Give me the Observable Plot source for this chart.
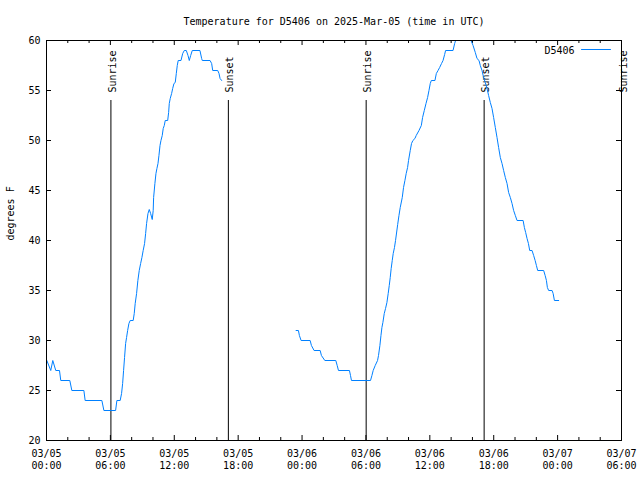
<!DOCTYPE html>
<html><head><meta charset="utf-8">
<script src="https://cdn.jsdelivr.net/npm/d3@7"></script>
<script src="https://cdn.jsdelivr.net/npm/@observablehq/plot@0.6"></script>
<style>body{margin:0;background:#fff} svg{display:block}</style>
</head><body><div id="chart"></div>
<script>
const title = "Temperature for D5406 on 2025-Mar-05 (time in UTC)";
const seriesName = "D5406";
const yLabel = "degrees F";
const startUTC = Date.UTC(2025, 2, 5, 0, 0);
const endUTC = Date.UTC(2025, 2, 7, 6, 0);

// hours since 2025-03-05 00:00 UTC
const seg1Hours = [0.03,0.40,0.59,0.87,1.22,1.34,2.19,2.38,3.51,3.63,5.20,5.39,6.49,6.61,6.92,7.05,7.15,7.24,7.33,7.43,7.52,7.62,7.74,7.86,8.14,8.24,8.33,8.46,8.58,8.71,8.84,8.96,9.08,9.21,9.31,9.40,9.53,9.65,9.78,9.93,10.02,10.06,10.18,10.28,10.37,10.47,10.56,10.66,10.75,10.87,10.96,11.06,11.15,11.38,11.47,11.53,11.62,11.75,11.85,11.97,12.09,12.19,12.28,12.37,12.63,12.79,12.94,13.13,13.29,13.41,13.54,13.69,14.41,14.57,14.63,15.36,15.51,15.61,16.08,16.20,16.30,16.45];
const seg1Temps = [28,27,28,27,27,26,26,25,25,24,24,23,23,24,24,24.7,25.7,27,28.3,29.7,30.3,31,31.7,32,32,32.7,33.7,34.7,36,37,37.7,38.3,39,39.7,40.7,41.7,42.7,43.1,42.7,42.1,43,44.3,45.7,46.7,47.2,47.7,48.5,49.5,50,50.5,51.2,51.5,52,52,52.8,53.7,54.2,54.7,55.2,55.7,55.8,56.7,57.5,58,58,58.7,59,59,58.5,58,58.5,59,59,58.2,58,58,57.7,57,57,56.7,56.2,56];
const seg2Hours = [23.44,23.66,23.75,23.91,24.76,24.88,25.13,25.70,25.82,26.14,27.17,27.30,27.42,28.45,28.55,28.64,30.43,30.56,30.68,30.87,31.09,31.18,31.31,31.41,31.50,31.59,31.72,31.84,31.97,32.09,32.19,32.28,32.37,32.47,32.56,32.68,32.78,32.98,33.10,33.22,33.41,33.53,33.66,33.78,33.91,34.00,34.16,34.28,34.41,34.60,34.72,34.98,35.20,35.32,35.48,35.64,35.79,35.92,36.04,36.14,36.48,36.61,36.77,36.92,37.10,37.24,37.39,37.48,38.18,38.33,38.42,38.67,39.05,39.43,39.87,40.06,40.27,40.43,40.62,40.74,40.90,41.05,41.21,41.37,41.52,41.68,41.84,41.99,42.15,42.31,42.46,42.62,42.78,42.93,43.09,43.25,43.40,43.56,43.72,43.87,44.03,44.19,44.76,44.88,45.00,45.13,45.26,45.38,45.60,45.75,45.89,46.01,46.13,46.69,46.83,46.95,47.04,47.16,47.48,47.58,47.70,48.10];
const seg2Temps = [31,31,30.5,30,30,29.5,29,29,28.5,28,28,27.5,27,27,26.5,26,26,26.5,27,27.5,28,28.5,29.5,30.5,31.3,31.8,32.7,33.2,33.8,34.7,35.5,36.3,37.2,38,38.7,39.3,40,41.6,42.5,43.3,44.3,45.3,46,46.7,47.3,48,49,49.7,50,50.2,50.5,51,51.5,52.3,53,53.7,54.3,55,55.7,56,56,56.7,57,57.3,57.7,58,58.6,59,59,59.7,60,60.6,61,60.6,60,59.5,58.8,58.2,58,57.5,57,56.3,55.8,55.2,54.5,53.8,53.2,52.3,51.3,50.3,49.3,48.3,47.7,47,46.3,45.7,44.8,44.3,43.7,43,42.5,42,42,41.3,40.8,40.2,39.7,39,39,38.5,38,37.5,37,37,36.5,36,35.3,35,35,34.7,34,34];

const sunLabels = ["Sunrise","Sunset","Sunrise","Sunset","Sunrise"];
const sunHours = [6.05, 17.08, 30.02, 41.10, 54.0];
const yTicks = [20,25,30,35,40,45,50,55,60];
const xMajorHours = [0,6,12,18,24,30,36,42,48,54];
const xMinorHours = [2,4,8,10,14,16,20,22,26,28,32,34,38,40,44,46,50,52];

const toDate = h => new Date(startUTC + h * 3600000);
const data = [
  ...seg1Hours.map((h, i) => ({date: toDate(h), temp: seg1Temps[i], seg: 1})),
  ...seg2Hours.map((h, i) => ({date: toDate(h), temp: seg2Temps[i], seg: 2}))
];
const sunEvents = sunHours.map((h, i) => ({date: toDate(h), label: sunLabels[i]}));
const xMajor = xMajorHours.map(toDate);
const xMinor = xMinorHours.map(toDate);

const W = 640, H = 480, mL = 46, mR = 19, mT = 40, mB = 40;
const fw = W - mL - mR, fh = H - mT - mB;
const blue = "#0080ff";
const fmt = d3.utcFormat("%m/%d\n%H:%M");

const chart = Plot.plot({
  width: W, height: H,
  marginLeft: mL, marginRight: mR, marginTop: mT, marginBottom: mB,
  style: {fontFamily: "'DejaVu Sans Mono', monospace", fontSize: "10px", color: "black", background: "white"},
  x: {type: "utc", domain: [new Date(startUTC), new Date(endUTC)], axis: null},
  y: {domain: [20, 60], axis: null},
  marks: [
    Plot.axisX(xMajor, {anchor: "bottom", tickSize: 0, tickPadding: 8, tickFormat: fmt, lineHeight: 1.2, label: null}),
    Plot.axisY(yTicks, {anchor: "left", tickSize: 0, tickPadding: 6, label: null}),
    Plot.ruleX(xMajor, {insetTop: fh - 5}),
    Plot.ruleX(xMinor, {insetTop: fh - 3}),
    Plot.ruleX(xMajor, {insetBottom: fh - 5}),
    Plot.ruleX(xMinor, {insetBottom: fh - 3}),
    Plot.ruleY(yTicks, {insetRight: fw - 5}),
    Plot.ruleY(yTicks, {insetLeft: fw - 5}),
    Plot.ruleX(sunEvents, {x: "date", insetTop: fh * 0.15, stroke: "black", strokeWidth: 1}),
    Plot.text(sunEvents, {x: "date", text: "label", frameAnchor: "top", dy: fh * 0.13, dx: -2, rotate: -90, textAnchor: "start"}),
    Plot.line(data, {x: "date", y: "temp", z: "seg", stroke: blue, strokeWidth: 1, clip: true}),
    Plot.text([seriesName], {text: d => d, frameAnchor: "top-right", dx: -47, dy: 6, textAnchor: "end"}),
    Plot.vector([seriesName], {frameAnchor: "top-right", dx: -11, dy: 9, length: 29, rotate: -90, anchor: "start", stroke: blue, strokeWidth: 1,
      shape: {draw(ctx, l) { ctx.moveTo(0, 0); ctx.lineTo(0, -l); }}}),
    Plot.text([title], {text: d => d, frameAnchor: "top", dy: -23}),
    Plot.text([yLabel], {text: d => d, frameAnchor: "left", dx: -36, rotate: -90}),
    Plot.frame({stroke: "black"})
  ]
});
document.getElementById("chart").appendChild(chart);
</script>
</body></html>
